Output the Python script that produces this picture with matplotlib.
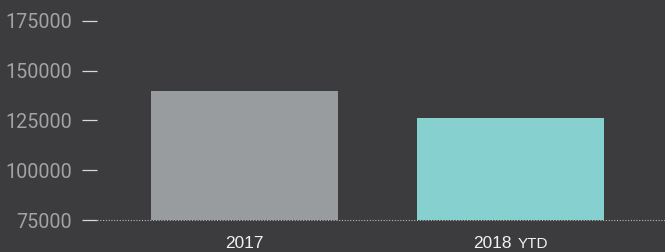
import matplotlib
matplotlib.use("Agg")
import matplotlib.pyplot as plt
import matplotlib.transforms as mtransforms

categories = ["2017", "2018"]
suffixes = ["", "YTD"]
values = [139800, 126200]
bar_colors = ["#989c9e", "#86d1cf"]
yticks = [75000, 100000, 125000, 150000, 175000]

BG = "#3c3c3e"
fig = plt.figure(figsize=(6.65, 2.52), dpi=100, facecolor=BG)
ax = fig.add_axes([97/665, 32/252, 568/665, 209/252])
ax.set_facecolor(BG)

x = list(range(len(categories)))
ax.bar(x, [v - 75000 for v in values], bottom=75000, width=0.703, color=bar_colors, zorder=2)

ax.set_xlim(-0.5545, 1.58)
ax.set_ylim(75000, 180000)

for s in ax.spines.values():
    s.set_visible(False)

ax.axhline(75000, color="#b8b8b8", linestyle=(0, (1, 1.5)), linewidth=0.8, zorder=3, clip_on=False)

ax.set_yticks(yticks)
ax.set_yticklabels([str(t) for t in yticks], fontfamily="Roboto", fontsize=14.2, color="#a3a3a5")
ax.tick_params(axis="y", length=10.8, width=0.9, color="#d8d8d8", pad=7)

ax.set_xticks(x)
ax.set_xticklabels([])
ax.tick_params(axis="x", length=0)

trans = mtransforms.blended_transform_factory(ax.transData, ax.transAxes)
FS = 12.4
YOFF = -17
for xi, cat, suf in zip(x, categories, suffixes):
    if suf:
        ax.annotate(cat, xy=(xi, 0), xycoords=trans, xytext=(-13.3, YOFF), textcoords="offset points",
                    ha="center", va="center", fontfamily="Liberation Sans", fontsize=FS, color="#f2f2f2",
                    annotation_clip=False)
        ax.annotate(suf, xy=(xi, 0), xycoords=trans, xytext=(4.7, YOFF), textcoords="offset points",
                    ha="left", va="center", fontfamily="Liberation Sans", fontsize=11, color="#f2f2f2",
                    annotation_clip=False)
    else:
        ax.annotate(cat, xy=(xi, 0), xycoords=trans, xytext=(0, YOFF), textcoords="offset points",
                    ha="center", va="center", fontfamily="Liberation Sans", fontsize=FS, color="#f2f2f2",
                    annotation_clip=False)

fig.savefig("out.png", dpi=100, facecolor=BG)
